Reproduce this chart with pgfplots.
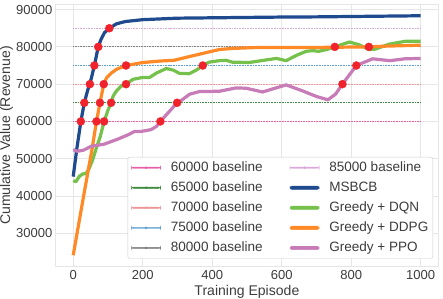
\documentclass[border=0pt]{standalone}
\usepackage{pgfplots}
\pgfplotsset{compat=1.18}
\usepackage{fontspec}
\setmainfont{Liberation Sans}
\definecolor{textgray}{HTML}{3C3C3C}
\definecolor{gridgray}{HTML}{E6E6E6}
\definecolor{cmsbcb}{HTML}{1F4A8E}
\definecolor{cdqn}{HTML}{76C04C}
\definecolor{cddpg}{HTML}{FD8A26}
\definecolor{cppo}{HTML}{C77CB8}
\definecolor{cdot}{HTML}{F0232D}
\definecolor{bsixty}{HTML}{E75EA8}
\definecolor{bsixtyfive}{HTML}{3D8B3D}
\definecolor{bseventy}{HTML}{EE9496}
\definecolor{bseventyfive}{HTML}{5B9FD0}
\definecolor{beighty}{HTML}{808080}
\definecolor{beightyfive}{HTML}{DBA6DB}
\pgfplotsset{
  thinleg/.style={legend image code/.code={\fill[#1] (0pt,-0.6pt) rectangle (29pt,0.6pt); \fill[#1] (14.5pt,0pt) circle (1pt);}},
  thickleg/.style={legend image code/.code={\fill[#1] (0pt,-1.7pt) rectangle (29pt,1.7pt);}},
}
\begin{document}
\begin{tikzpicture}
\begin{axis}[
  scale only axis,
  width=381pt, height=262pt,
  xmin=-50, xmax=1050,
  ymin=21000, ymax=91500,
  xtick={0,200,...,1000},
  ytick={30000,40000,...,90000},
  scaled y ticks=false,
  /pgf/number format/.cd, fixed, 1000 sep={}, assume math mode=true,
  /pgfplots/.cd,
  tick style={draw=none},
  grid=major,
  grid style={gridgray, line width=0.8pt},
  axis line style={gridgray, line width=0.8pt},
  tick label style={font=\fontsize{13}{15}\selectfont, text=textgray},
  xlabel={Training Episode},
  ylabel={Cumulative Value (Revenue)},
  every axis y label/.style={at={(axis description cs:-0.129,0.5)}, rotate=90, anchor=center, inner sep=0pt, font=\fontsize{14}{16}\selectfont, text=textgray},
  every axis x label/.style={at={(axis description cs:0.5,0)}, anchor=north, yshift=-18pt, inner sep=0pt, font=\fontsize{14}{16}\selectfont, text=textgray},
  legend columns=2,
  legend cell align=left,
  legend style={
    at={(axis description cs:0.987,0.031)}, anchor=south east,
    font=\fontsize{13.5}{15}\selectfont\color{textgray},
    draw=black!20, rounded corners=2pt, fill=white,
    row sep=6pt, inner sep=3.5pt,
    nodes={inner sep=1pt, text height=9.5pt, text depth=2.5pt},
    /tikz/every odd column/.append style={column sep=9pt},
    /tikz/every even column/.append style={column sep=26pt},
  },
]
% baselines
\addplot[color=bsixty, dash pattern=on 1pt off 0.6pt, line width=1.2pt, forget plot] coordinates {(0,60000) (1000,60000)};
\addplot[color=bsixtyfive, dash pattern=on 1pt off 0.6pt, line width=1.2pt, forget plot] coordinates {(0,65000) (1000,65000)};
\addplot[color=bseventy, dash pattern=on 1pt off 0.6pt, line width=1.2pt, forget plot] coordinates {(0,70000) (1000,70000)};
\addplot[color=bseventyfive, dash pattern=on 1pt off 0.6pt, line width=1.2pt, forget plot] coordinates {(0,75000) (1000,75000)};
\addplot[color=beighty, dash pattern=on 1pt off 0.6pt, line width=1.2pt, forget plot] coordinates {(0,80000) (1000,80000)};
\addplot[color=beightyfive, dash pattern=on 1pt off 0.6pt, line width=1.2pt, forget plot] coordinates {(0,85000) (1000,85000)};
% MSBCB
\addplot[cmsbcb, line width=3.2pt, forget plot, line join=round] coordinates {
(0,45200) (10,52400) (22,60000) (32,65000) (42,68500) (48,70000) (61,75000) (72,80000) (80,82000) (90,83800) (104,85000)
(125,86200) (150,86800) (200,87300) (300,87700) (400,87800) (500,87900) (600,88000) (700,88050) (800,88150) (900,88250) (1000,88350)};
% DQN
\addplot[cdqn, line width=3.2pt, forget plot, line join=round] coordinates {
(0,44100) (8,43850) (17,45200) (27,45900) (37,46000) (46,47400) (56,49700) (65,52400) (78,56000) (89,60000) (100,63000) (109,65000)
(115,66800) (123,68000) (137,69400) (152,70000) (172,71300) (200,71800) (220,71800) (240,73000) (268,74200) (287,73800) (306,72900)
(334,72800) (355,73800) (373,75000) (391,75900) (420,76300) (440,76400) (458,75900) (506,75800) (534,76200) (585,76900) (613,76300)
(642,77700) (670,78800) (690,79000) (706,78800) (730,79300) (753,80000) (795,81300) (822,80600) (852,79300) (870,79400) (908,80700)
(956,81500) (1000,81500)};
% DDPG
\addplot[cddpg, line width=3.2pt, forget plot, line join=round] coordinates {
(0,24100) (30,40000) (55,53000) (67,60000) (77,65000) (88,70000) (96,71700) (110,73000) (125,74000) (152,75000) (200,75800)
(250,76200) (290,76400) (330,77300) (380,78400) (421,79300) (460,79600) (520,79800) (600,79850) (700,79850) (800,79950)
(851,80000) (900,80200) (1000,80450)};
% PPO
\addplot[cppo, line width=3.2pt, forget plot, line join=round] coordinates {
(0,52400) (12,52000) (30,52300) (51,53300) (89,53900) (127,55200) (160,56500) (176,57300) (195,57300) (224,57800) (240,58700)
(251,60000) (277,62700) (299,65000) (312,65700) (335,67300) (363,68000) (421,68100) (469,69000) (498,68900) (545,67900)
(613,69800) (660,68200) (700,66700) (733,65800) (755,67300) (775,70000) (815,75000) (862,76800) (911,76300) (955,76800) (1000,76900)};
% threshold crossing dots
\addplot[only marks, mark=*, mark size=4pt, mark options={draw=cdot, fill=cdot}, forget plot] coordinates {
(22,60000) (32,65000) (48,70000) (61,75000) (72,80000) (104,85000)
(67,60000) (77,65000) (88,70000) (152,75000) (851,80000)
(89,60000) (109,65000) (152,70000) (373,75000) (753,80000)
(251,60000) (299,65000) (775,70000) (815,75000)};
% legend (row-wise order)
\addlegendimage{thinleg=bsixty}
\addlegendentry{60000 baseline}
\addlegendimage{thinleg=beightyfive}
\addlegendentry{85000 baseline}
\addlegendimage{thinleg=bsixtyfive}
\addlegendentry{65000 baseline}
\addlegendimage{thickleg=cmsbcb}
\addlegendentry{MSBCB}
\addlegendimage{thinleg=bseventy}
\addlegendentry{70000 baseline}
\addlegendimage{thickleg=cdqn}
\addlegendentry{Greedy + DQN}
\addlegendimage{thinleg=bseventyfive}
\addlegendentry{75000 baseline}
\addlegendimage{thickleg=cddpg}
\addlegendentry{Greedy + DDPG}
\addlegendimage{thinleg=beighty}
\addlegendentry{80000 baseline}
\addlegendimage{thickleg=cppo}
\addlegendentry{Greedy + PPO}
\end{axis}
\path ([xshift=5pt,yshift=4pt]current axis.north east);
\end{tikzpicture}
\end{document}
